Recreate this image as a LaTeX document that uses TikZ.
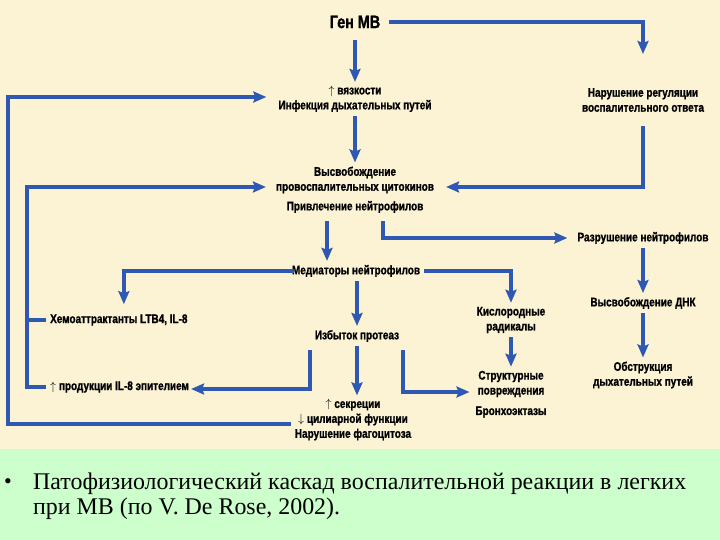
\documentclass[tikz,border=0pt]{standalone}
\usepackage{fontspec}
\setmainfont{Liberation Serif}
\newfontfamily\diafont{Liberation Sans}[FakeStretch=0.8, BoldFeatures={FakeBold=1.2}]
\usetikzlibrary{arrows.meta, positioning, calc}
\definecolor{cream}{RGB}{252,243,212}
\definecolor{paleg}{RGB}{204,255,204}
\definecolor{arrblue}{RGB}{47,88,178}
\tikzset{
  lbl/.style    = {font=\diafont\bfseries\fontsize{12.5}{15}\selectfont,
                   align=center, inner sep=4bp},
  head/.style   = {font=\diafont\bfseries\fontsize{18}{20}\selectfont,
                   inner sep=4bp},
  captxt/.style = {font=\fontsize{24}{25}\selectfont, align=left, inner sep=0pt},
  arr/.style    = {draw=arrblue, line width=4bp,
                   -{Stealth[length=13bp, width=11bp, inset=2bp]}},
  link/.style   = {draw=arrblue, line width=4bp}
}

\begin{document}
\begin{tikzpicture}[x=1bp, y=-1bp]

  % ── Background ────────────────────────────────────────────────────────────
  \fill[cream] (0,0) rectangle (720,449);
  \fill[paleg] (0,449) rectangle (720,540);
  \useasboundingbox (0,0) rectangle (720,540);

  % ── Central column ────────────────────────────────────────────────────────
  \node[head] (gen)  at (355,22)  {Ген МВ};
  \node[lbl]  (inf)  at (355,99)  {$\uparrow$ вязкости\\Инфекция дыхательных путей};
  \node[lbl]  (cyt)  at (355,180) {Высвобождение\\провоспалительных цитокинов};
  \node[lbl]  (attr) at (355,207) {Привлечение нейтрофилов};
  \node[lbl]  (med)  at (356,271) {Медиаторы нейтрофилов};
  \node[lbl]  (prot) at (357,336) {Избыток протеаз};
  \node[lbl]  (eff)  at (353,420) {$\uparrow$ секреции\\$\downarrow$ цилиарной функции\\Нарушение фагоцитоза};

  % ── Right column ──────────────────────────────────────────────────────────
  \node[lbl]  (reg)   at (643,100) {Нарушение регуляции\\воспалительного ответа};
  \node[lbl]  (destr) at (643,238) {Разрушение нейтрофилов};
  \node[lbl]  (dna)   at (643,303) {Высвобождение ДНК};
  \node[lbl]  (obstr) at (643,375) {Обструкция\\дыхательных путей};

  % ── Middle-right ──────────────────────────────────────────────────────────
  \node[lbl]  (oxy)    at (511,320) {Кислородные\\радикалы};
  \node[lbl]  (struct) at (511,384) {Структурные\\повреждения};
  \node[lbl]  (bronch) at (511,412) {Бронхоэктазы};

  % ── Left side ─────────────────────────────────────────────────────────────
  \node[lbl, anchor=west] (chemo) at (46,320) {Хемоаттрактанты LTB4, IL-8};
  \node[lbl, anchor=west] (il8)   at (46,387) {$\uparrow$ продукции IL-8 эпителием};

  % ── Connection points ─────────────────────────────────────────────────────
  \coordinate (railA)  at (8,0);
  \coordinate (railB)  at (27,0);
  \coordinate (genOut) at ([xshift=5bp]gen.east);
  \coordinate (genDn)  at ([yshift=-8bp]gen.south);
  \coordinate (infIn)  at ([xshift=-8bp, yshift=2bp]inf.west);
  \coordinate (cytInL) at ([xshift=-6bp, yshift=-7bp]cyt.west);
  \coordinate (cytInR) at ([xshift=8bp, yshift=-7bp]cyt.east);
  \coordinate (cilOut) at ([yshift=-4bp]eff.west);
  \coordinate (regIn)  at ([yshift=30bp]reg.north);
  \coordinate (regOut) at ([yshift=-10bp]reg.south);
  \coordinate (attrL)  at ([xshift=-28bp, yshift=-4bp]attr.south);
  \coordinate (attrR)  at ([xshift=28bp, yshift=-4bp]attr.south);
  \coordinate (medL)   at ([xshift=6bp]med.west);
  \coordinate (chemoIn) at ([xshift=5bp, yshift=6bp]chemo.north);
  \coordinate (protL)  at ([xshift=-47bp, yshift=-4bp]prot.south);
  \coordinate (protR)  at ([xshift=46bp, yshift=-4bp]prot.south);
  \coordinate (structIn) at ([xshift=-4bp, yshift=-8bp]struct.west);

  % ── Connections ───────────────────────────────────────────────────────────
  \draw[arr] (genDn) -- (inf);
  \draw[arr] (genOut) -| (regIn);
  \draw[arr] (inf) -- (cyt);
  \draw[arr] (regOut) |- (cytInR);
  \draw[arr] (attrL) -- (attrL |- med.north);
  \draw[arr] (attrR) |- ([xshift=-6bp]destr.west);
  \draw[arr] (destr) -- (dna);
  \draw[arr] (dna) -- (obstr);
  \draw[arr] (medL) -| (chemoIn);
  \draw[arr] (med.east) -| (oxy.north);
  \draw[arr] (prot |- med.south) -- (prot);
  \draw[arr] (oxy) -- (struct);
  \draw[arr] (prot) -- (prot |- eff.north);
  \draw[arr] (protL) |- ([xshift=-2bp, yshift=-2bp]il8.east);
  \draw[arr] (protR) |- (structIn);

  % feedback loops on the left
  \draw[arr] (cilOut) -| (railA |- infIn) -- (infIn);
  \draw[arr] (il8.west) -| (railB |- cytInL) -- (cytInL);
  \draw[link] (chemo.west) -- (chemo.west -| railB);

  % ── Caption ───────────────────────────────────────────────────────────────
  \node[font=\fontsize{22}{22}\selectfont, anchor=west, inner sep=0pt] (bul) at (4,484) {\textbullet};
  \node[captxt, anchor=north west] (caption) at (33,473)
    {Патофизиологический каскад воспалительной реакции в легких\\при МВ (по V. De Rose, 2002).};

\end{tikzpicture}
\end{document}
